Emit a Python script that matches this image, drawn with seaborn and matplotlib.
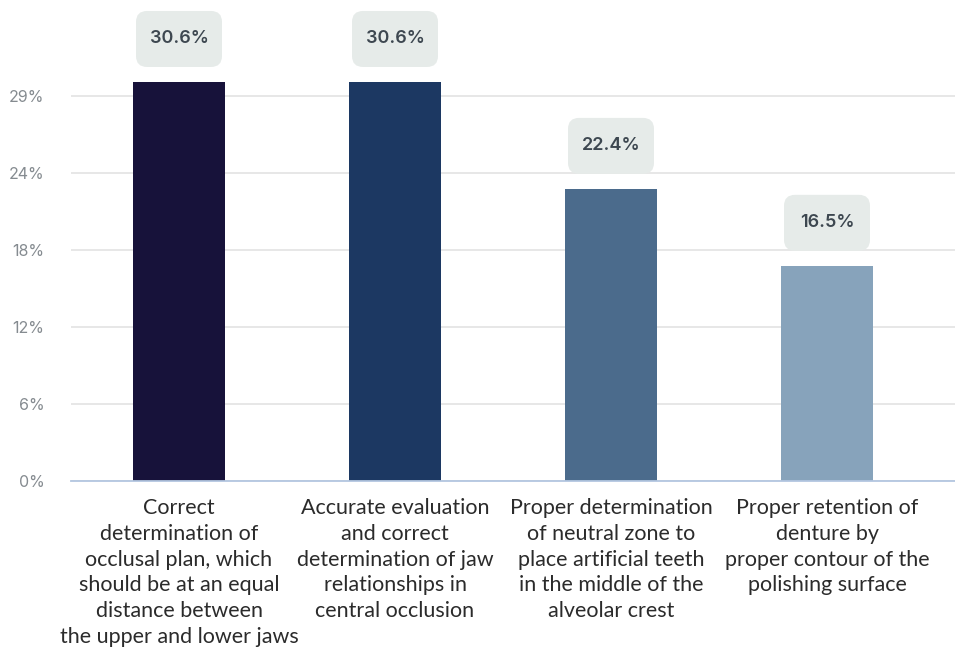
import matplotlib
matplotlib.use("Agg")
import matplotlib.pyplot as plt
from matplotlib.patches import FancyBboxPatch
import seaborn as sns
import pandas as pd

categories = [
    "Correct\ndetermination of\nocclusal plan, which\nshould be at an equal\ndistance between\nthe upper and lower jaws",
    "Accurate evaluation\nand correct\ndetermination of jaw\nrelationships in\ncentral occlusion",
    "Proper determination\nof neutral zone to\nplace artificial teeth\nin the middle of the\nalveolar crest",
    "Proper retention of\ndenture by\nproper contour of the\npolishing surface",
]
values = [30.6, 30.6, 22.4, 16.5]
value_labels = ["30.6%", "30.6%", "22.4%", "16.5%"]
bar_colors = ["#17123a", "#1c3862", "#4b6b8c", "#87a3bb"]
ytick_values = [0, 5.9, 11.8, 17.7, 23.6, 29.5]
ytick_labels = ["0%", "6%", "12%", "18%", "24%", "29%"]

sns.set_theme(style="white")
plt.rcParams["font.family"] = ["Lato", "DejaVu Sans"]

W, H = 955, 650
fig = plt.figure(figsize=(W / 100, H / 100), dpi=100)
ax_left, ax_right, ax_bottom, ax_top = 71, 955, 481, 0
ax = fig.add_axes([ax_left / W, (H - ax_bottom) / H, (ax_right - ax_left) / W, (ax_bottom - ax_top) / H])

df = pd.DataFrame({"cat": categories, "val": values})
sns.barplot(data=df, x="cat", y="val", hue="cat", palette=bar_colors, legend=False,
            width=0.426, ax=ax, saturation=1, edgecolor="none")

px_per_unit_x = 216.0
px_per_unit_y = 13.04
ax.set_xlim(-0.5, -0.5 + (ax_right - ax_left) / px_per_unit_x)
ax.set_ylim(0, (ax_bottom - ax_top) / px_per_unit_y)

# grid
ax.set_yticks(ytick_values)
ax.set_yticklabels(ytick_labels)
ax.yaxis.grid(True, color="#e3e3e3", linewidth=1.2)
ax.set_axisbelow(True)
for s in ["left", "right", "top"]:
    ax.spines[s].set_visible(False)
ax.spines["bottom"].set_color("#b3c6e0")
ax.spines["bottom"].set_linewidth(1.3)

ax.tick_params(axis="y", length=0, pad=19, labelsize=11.5, labelcolor="#858b90")
for lab in ax.get_yticklabels():
    lab.set_family(["Inter", "DejaVu Sans"])
ax.tick_params(axis="x", length=0, pad=12, labelsize=15.5, labelcolor="#2b2b2b")
for lab in ax.get_xticklabels():
    lab.set_linespacing(1.37)
ax.set_xlabel("")
ax.set_ylabel("")

# value label boxes
box_w = 86 / px_per_unit_x
box_h = 56 / px_per_unit_y
gap = 15 / px_per_unit_y
rad_x = 11 / px_per_unit_x
aspect = (11 / px_per_unit_y) / rad_x
for i, (v, t) in enumerate(zip(values, value_labels)):
    y0 = v + gap
    p = FancyBboxPatch((i - box_w / 2, y0), box_w, box_h,
                       boxstyle=f"round,pad=0,rounding_size={rad_x}",
                       mutation_aspect=aspect, fc="#e6ebe9", ec="none", zorder=3)
    ax.add_patch(p)
    ax.text(i, y0 + box_h / 2, t, ha="center", va="center", fontsize=13,
            fontweight="semibold", color="#3d4750", family=["Inter", "DejaVu Sans"], zorder=4)

fig.savefig("out.png", dpi=100)
